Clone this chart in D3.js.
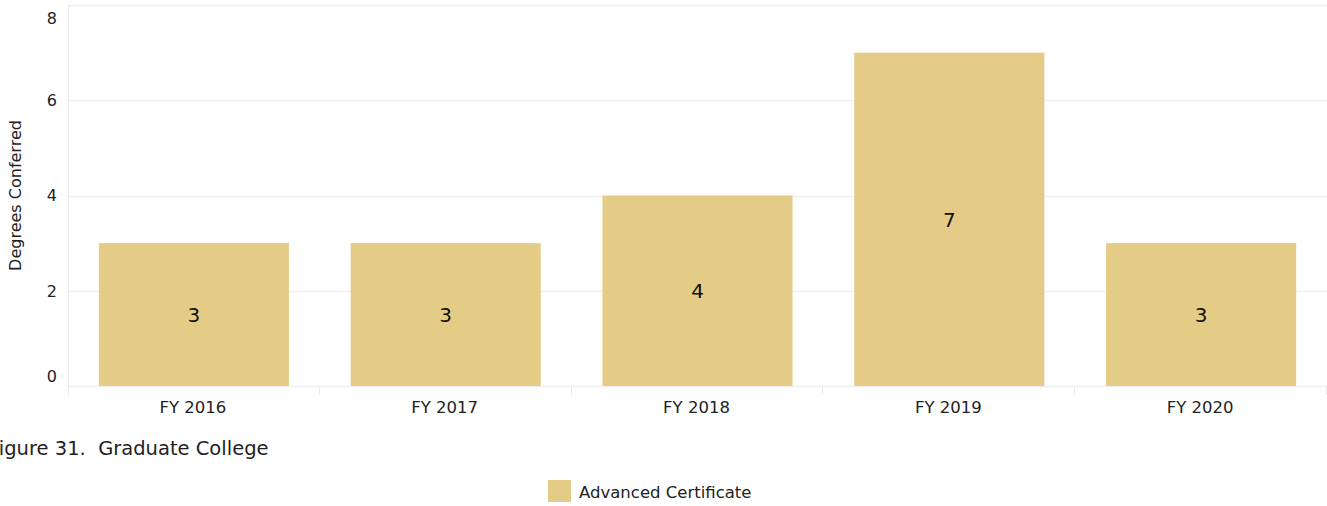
<!DOCTYPE html>
<html>
<head>
<meta charset="utf-8">
<script src="https://cdn.jsdelivr.net/npm/d3@7"></script>
<style>
  body { margin: 0; background: #fff; }
  svg { display: block; font-family: "DejaVu Sans", sans-serif; }
</style>
</head>
<body>
<div id="chart"></div>
<script>
// data
var years = ["FY 2016", "FY 2017", "FY 2018", "FY 2019", "FY 2020"];
var degrees = [3, 3, 4, 7, 3];
var yTicks = [0, 2, 4, 6, 8];
var seriesName = "Advanced Certificate";

var W = 1327, H = 506;
var plotLeft = 68, plotRight = 1327, plotTop = 5, plotBottom = 386;
var barColor = "#e4cc87";

var svg = d3.select("#chart").append("svg")
  .attr("width", W)
  .attr("height", H);

var x = d3.scaleBand()
  .domain(years)
  .range([plotLeft, plotRight])
  .paddingInner(0.245)
  .paddingOuter(0.1225);

var xBand = d3.scaleBand().domain(years).range([plotLeft, plotRight]);

var y = d3.scaleLinear()
  .domain([0, 8])
  .range([plotBottom, plotTop]);

// gridlines
svg.selectAll("line.grid")
  .data(yTicks)
  .enter()
  .append("line")
  .attr("class", "grid")
  .attr("x1", plotLeft)
  .attr("x2", W)
  .attr("y1", function(d){ return Math.round(y(d)) + 0.5; })
  .attr("y2", function(d){ return Math.round(y(d)) + 0.5; })
  .attr("stroke", "#efefef")
  .attr("stroke-width", 1.5);

// left axis line
svg.append("line")
  .attr("x1", plotLeft + 0.5).attr("x2", plotLeft + 0.5)
  .attr("y1", plotTop).attr("y2", plotBottom + 9)
  .attr("stroke", "#e8e8e8");

// x dividers
svg.selectAll("line.div")
  .data(years)
  .enter()
  .append("line")
  .attr("class", "div")
  .attr("x1", function(d){ return Math.round(xBand(d) + xBand.bandwidth()) - 0.5; })
  .attr("x2", function(d){ return Math.round(xBand(d) + xBand.bandwidth()) - 0.5; })
  .attr("y1", plotBottom)
  .attr("y2", plotBottom + 9)
  .attr("stroke", "#e8e8e8");

// bars
svg.selectAll("rect.bar")
  .data(degrees)
  .enter()
  .append("rect")
  .attr("class", "bar")
  .attr("x", function(d, i){ return x(years[i]); })
  .attr("width", x.bandwidth())
  .attr("y", function(d){ return y(d); })
  .attr("height", function(d){ return y(0) - y(d); })
  .attr("fill", barColor);

// bar labels
svg.selectAll("text.val")
  .data(degrees)
  .enter()
  .append("text")
  .attr("class", "val")
  .attr("x", function(d, i){ return x(years[i]) + x.bandwidth() / 2; })
  .attr("y", function(d){ return (y(d) + y(0)) / 2; })
  .attr("dy", "0.36em")
  .attr("text-anchor", "middle")
  .attr("font-size", 20)
  .attr("fill", "#111")
  .text(function(d){ return d; });

// y tick labels (top and bottom nudged inside like Tableau)
svg.selectAll("text.ytick")
  .data(yTicks)
  .enter()
  .append("text")
  .attr("class", "ytick")
  .attr("x", 57)
  .attr("y", function(d){
    if (d === 8) return y(d) + 13;
    if (d === 0) return y(d) - 10;
    return y(d);
  })
  .attr("dy", "0.36em")
  .attr("text-anchor", "end")
  .attr("font-size", 16)
  .attr("fill", "#222")
  .text(function(d){ return d; });

// x tick labels
svg.selectAll("text.xtick")
  .data(years)
  .enter()
  .append("text")
  .attr("class", "xtick")
  .attr("x", function(d){ return xBand(d) + xBand.bandwidth() / 2 - 1; })
  .attr("y", 407)
  .attr("dy", "0.36em")
  .attr("text-anchor", "middle")
  .attr("font-size", 16.5)
  .attr("fill", "#222")
  .text(function(d){ return d; });

// y axis title
svg.append("text")
  .attr("transform", "translate(15," + ((plotTop + plotBottom) / 2) + ") rotate(-90)")
  .attr("dy", "0.36em")
  .attr("text-anchor", "middle")
  .attr("font-size", 16)
  .attr("fill", "#222")
  .text("Degrees Conferred");

// caption
svg.append("text")
  .attr("x", -11)
  .attr("y", 448)
  .attr("dy", "0.36em")
  .attr("font-size", 19.5)
  .attr("fill", "#222")
  .attr("xml:space", "preserve")
  .text("Figure 31.  Graduate College");

// legend
svg.append("rect")
  .attr("x", 548).attr("y", 480)
  .attr("width", 23).attr("height", 22)
  .attr("fill", barColor);

svg.append("text")
  .attr("x", 579)
  .attr("y", 492)
  .attr("dy", "0.36em")
  .attr("font-size", 16.5)
  .attr("fill", "#222")
  .text(seriesName);
</script>
</body>
</html>
